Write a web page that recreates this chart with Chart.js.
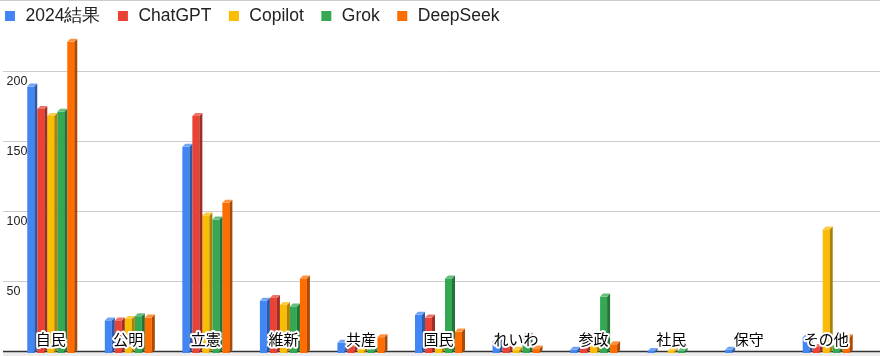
<!DOCTYPE html>
<html>
<head>
<meta charset="utf-8">
<script src="https://cdn.jsdelivr.net/npm/chart.js@4"></script>
<style>
  html, body { margin: 0; padding: 0; background: #fff; }
  canvas { display: block; }
</style>
</head>
<body>
<canvas id="c" width="880" height="356"></canvas>
<script>
const categories = ['自民', '公明', '立憲', '維新', '共産', '国民', 'れいわ', '参政', '社民', '保守', 'その他'];
const yTickValues = [50, 100, 150, 200];
const seriesNames = ['2024結果', 'ChatGPT', 'Copilot', 'Grok', 'DeepSeek'];
const seriesColors = ['#4285F4', '#EA4335', '#FBBC04', '#34A853', '#FF6D01'];
const result2024 = [191, 24, 148, 38, 8, 28, 9, 3, 1, 3, 12];
const chatgpt    = [175, 24, 170, 40, 5, 26, 5, 4, 0, 0, 5];
const copilot    = [170, 25, 99, 35, 3, 4, 3, 5, 2, 0, 89];
const grok       = [173, 27, 96, 34, 3, 54, 13, 41, 2, 0, 6];
const deepseek   = [223, 26, 108, 54, 12, 16, 4, 7, 0, 0, 12];
const seriesValues = [result2024, chatgpt, copilot, grok, deepseek];

function shade(hex, f) {
  const n = parseInt(hex.slice(1), 16);
  let r = (n >> 16) & 255, g = (n >> 8) & 255, b = n & 255;
  if (f < 1) { r *= f; g *= f; b *= f; }
  else { const t = f - 1; r += (255 - r) * t; g += (255 - g) * t; b += (255 - b) * t; }
  return 'rgb(' + Math.round(r) + ',' + Math.round(g) + ',' + Math.round(b) + ')';
}

const D = 3;
const decor = {
  id: 'decor',
  beforeDatasetsDraw(chart) {
    const ctx = chart.ctx, y = chart.scales.y;
    ctx.save();
    ctx.strokeStyle = '#cccccc'; ctx.lineWidth = 1;
    ctx.beginPath(); ctx.moveTo(0, 0.5); ctx.lineTo(880, 0.5); ctx.stroke();
    yTickValues.forEach(v => {
      const py = Math.round(y.getPixelForValue(v)) + 0.5;
      ctx.strokeStyle = '#cccccc';
      ctx.beginPath(); ctx.moveTo(3, py); ctx.lineTo(880, py); ctx.stroke();
    });
    const by = Math.round(y.getPixelForValue(0));
    ctx.fillStyle = '#ececec';
    ctx.fillRect(3, by + 1, 877, 356 - by - 1);
    ctx.strokeStyle = '#333'; ctx.lineWidth = 1.3;
    ctx.beginPath(); ctx.moveTo(3, by + 0.5); ctx.lineTo(880, by + 0.5); ctx.stroke();
    ctx.restore();
  },
  beforeDatasetDraw(chart, args) {
    const ctx = chart.ctx;
    const meta = chart.getDatasetMeta(args.index);
    const col = seriesColors[args.index];
    ctx.save();
    meta.data.forEach((el, i) => {
      const v = seriesValues[args.index][i];
      if (!v) return;
      const w = el.width, xl = el.x - w / 2, xr = el.x + w / 2;
      const bottom = el.base + 2;
      const ft = Math.min(el.y + D, el.base);
      ctx.fillStyle = col;
      ctx.fillRect(xl, ft, w, bottom - ft);
      ctx.fillStyle = shade(col, 0.68);
      ctx.beginPath();
      ctx.moveTo(xr, ft); ctx.lineTo(xr + D, ft - D); ctx.lineTo(xr + D, bottom - D); ctx.lineTo(xr, bottom);
      ctx.closePath(); ctx.fill();
      ctx.fillStyle = shade(col, 1.25);
      ctx.beginPath();
      ctx.moveTo(xl, ft); ctx.lineTo(xl + D, ft - D); ctx.lineTo(xr + D, ft - D); ctx.lineTo(xr, ft);
      ctx.closePath(); ctx.fill();
    });
    ctx.restore();
    return false;
  },
  afterDatasetsDraw(chart) {
    const ctx = chart.ctx, x = chart.scales.x, y = chart.scales.y;
    ctx.save();
    // y tick labels
    ctx.font = '12.5px "Liberation Sans", Arial, sans-serif';
    ctx.fillStyle = '#222'; ctx.textAlign = 'left'; ctx.textBaseline = 'alphabetic';
    yTickValues.forEach(v => {
      const py = Math.round(y.getPixelForValue(v)) + 0.5;
      ctx.fillText(String(v), 6.5, py + 13);
    });
    // category labels
    ctx.font = '15px "Noto Sans CJK JP", sans-serif';
    ctx.textAlign = 'center'; ctx.textBaseline = 'middle';
    ctx.lineJoin = 'round';
    categories.forEach((c, i) => {
      const px = x.getPixelForValue(i);
      ctx.strokeStyle = '#fff'; ctx.lineWidth = 4;
      ctx.strokeText(c, px, 339);
      ctx.fillStyle = '#000';
      ctx.fillText(c, px, 339);
    });
    // legend
    ctx.textAlign = 'left'; ctx.textBaseline = 'alphabetic';
    ctx.font = '17.5px "Liberation Sans", Arial, sans-serif';
    let lx = 5;
    seriesNames.forEach((n, i) => {
      ctx.fillStyle = seriesColors[i];
      ctx.fillRect(lx, 11, 10, 10);
      lx += 20.5;
      ctx.fillStyle = '#222';
      ctx.fillText(n, lx, 21.3);
      lx += ctx.measureText(n).width + 17.5;
    });
    ctx.restore();
  }
};

new Chart(document.getElementById('c'), {
  type: 'bar',
  data: {
    labels: categories,
    datasets: seriesNames.map((n, i) => ({
      label: n,
      data: seriesValues[i],
      backgroundColor: seriesColors[i],
      barPercentage: 0.7,
      categoryPercentage: 0.645
    }))
  },
  options: {
    responsive: false,
    animation: false,
    devicePixelRatio: 1,
    layout: { padding: { top: 36, bottom: 5, left: 12, right: 15 } },
    plugins: { legend: { display: false }, tooltip: { enabled: false } },
    scales: {
      x: { type: 'category', display: false, offset: true },
      y: { display: false, min: 0, max: 225 }
    }
  },
  plugins: [decor]
});
</script>
</body>
</html>
